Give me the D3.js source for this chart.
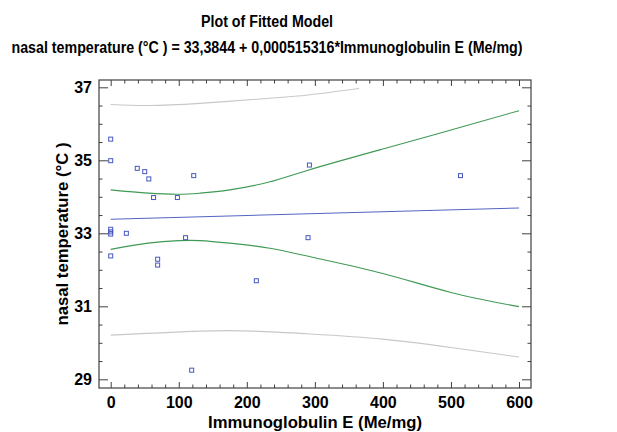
<!DOCTYPE html>
<html><head><meta charset="utf-8">
<script src="https://cdn.jsdelivr.net/npm/d3@7"></script>
<style>
body{margin:0;background:#fff;}
text{font-family:"Liberation Sans",Arial,sans-serif;font-weight:bold;fill:#000;}
</style></head>
<body><svg id="c" width="617" height="432"></svg>
<script>
// observed points
const igE  = [0,0,0,0,0,0,39,50,56,122,63,98,23,110,69,69,214,119,292,514,290];
const temp = [35.58,34.99,33.11,33.04,32.98,32.38,34.78,34.69,34.49,34.58,33.98,33.98,33.0,32.88,32.29,32.13,31.70,29.25,34.87,34.58,32.88];
// fitted model
const intercept = 33.3844, slope = 0.000515316;
const fitX = [0,600];
// confidence limits
const ciUpX = [0,55,100,131,175,234,290,400,500,600];
const ciUpY = [34.19,34.10,34.07,34.10,34.19,34.41,34.73,35.31,35.83,36.36];
const ciLoX = [0,55,100,131,175,234,300,400,500,600];
const ciLoY = [32.56,32.73,32.80,32.80,32.73,32.59,32.33,31.90,31.38,30.99];
// prediction limits
const piUpX = [0,55,131,234,290,365];
const piUpY = [36.53,36.50,36.56,36.70,36.79,36.97];
const piLoX = [0,131,209,293,400,500,600];
const piLoY = [30.21,30.32,30.32,30.24,30.10,29.87,29.61];
// ticks
const xMajor = [0,100,200,300,400,500,600];
const yMajor = [29,31,33,35,37];

const svg = d3.select("#c");
const L=99,R=531,T=80,B=388;
const x = d3.scaleLinear().domain([0,600]).range([110.7,519]);
const y = d3.scaleLinear().domain([29,37]).range([379.3,87.3]);

const xMinor = d3.range(0,601,20).filter(v=>!xMajor.includes(v));
const yMinor = d3.range(29,37.01,0.5).filter(v=>!yMajor.includes(v));

// title
svg.append("text").attr("x",267).attr("y",27).attr("text-anchor","middle").style("font-size","16px")
  .attr("textLength",132).attr("lengthAdjust","spacingAndGlyphs").text("Plot of Fitted Model");
svg.append("text").attr("x",267).attr("y",52.5).attr("text-anchor","middle").style("font-size","16px")
  .attr("textLength",511).attr("lengthAdjust","spacingAndGlyphs")
  .text("nasal temperature (°C ) = 33,3844 + 0,000515316*Immunoglobulin E (Me/mg)");

const tickStyle = g=>{g.select(".domain").remove(); g.selectAll("line").attr("stroke","#404040");};
const lblStyle = s=>s.style("font-size","16px").style("font-family","Liberation Sans").style("font-weight","bold").attr("fill","#000");
// bottom
svg.append("g").attr("transform",`translate(0,${B})`)
  .call(d3.axisBottom(x).tickValues(xMajor).tickSize(-6).tickPadding(9).tickFormat(d3.format("d")))
  .call(tickStyle).selectAll("text").call(lblStyle);
svg.append("g").attr("transform",`translate(0,${B})`)
  .call(d3.axisBottom(x).tickValues(xMinor).tickSize(-3.5).tickFormat("")).call(tickStyle);
// top
svg.append("g").attr("transform",`translate(0,${T})`)
  .call(d3.axisTop(x).tickValues(xMajor).tickSize(-6).tickFormat("")).call(tickStyle);
svg.append("g").attr("transform",`translate(0,${T})`)
  .call(d3.axisTop(x).tickValues(xMinor).tickSize(-3.5).tickFormat("")).call(tickStyle);
// left
svg.append("g").attr("transform",`translate(${L},0)`)
  .call(d3.axisLeft(y).tickValues(yMajor).tickSize(-9).tickPadding(7).tickFormat(d3.format("d")))
  .call(tickStyle).selectAll("text").call(lblStyle);
svg.append("g").attr("transform",`translate(${L},0)`)
  .call(d3.axisLeft(y).tickValues(yMinor).tickSize(-3.5).tickFormat("")).call(tickStyle);
// right
svg.append("g").attr("transform",`translate(${R},0)`)
  .call(d3.axisRight(y).tickValues(yMajor).tickSize(-9).tickFormat("")).call(tickStyle);
svg.append("g").attr("transform",`translate(${R},0)`)
  .call(d3.axisRight(y).tickValues(yMinor).tickSize(-3.5).tickFormat("")).call(tickStyle);

// frame
svg.append("rect").attr("x",L).attr("y",T).attr("width",R-L).attr("height",B-T)
  .attr("fill","none").attr("stroke","#404040").attr("stroke-width",1.2);

// axis titles
svg.append("text").attr("x",(L+R)/2).attr("y",428).attr("text-anchor","middle").style("font-size","16px")
  .attr("textLength",214).attr("lengthAdjust","spacingAndGlyphs").text("Immunoglobulin E (Me/mg)");
svg.append("text").attr("transform",`translate(68,${(T+B)/2}) rotate(-90)`).attr("text-anchor","middle").style("font-size","16px")
  .attr("textLength",183).attr("lengthAdjust","spacingAndGlyphs").text("nasal temperature (°C )");

// curves
const line = d3.line().x(d=>x(d[0])).y(d=>y(d[1])).curve(d3.curveNatural);
const zip = (a,b)=>a.map((v,i)=>[v,b[i]]);
svg.append("path").attr("d",line(zip(piUpX,piUpY))).attr("fill","none").attr("stroke","#c8c8c8").attr("stroke-width",1.1);
svg.append("path").attr("d",line(zip(piLoX,piLoY))).attr("fill","none").attr("stroke","#c8c8c8").attr("stroke-width",1.1);
svg.append("path").attr("d",line(zip(ciUpX,ciUpY))).attr("fill","none").attr("stroke","#3f9a55").attr("stroke-width",1.1);
svg.append("path").attr("d",line(zip(ciLoX,ciLoY))).attr("fill","none").attr("stroke","#3f9a55").attr("stroke-width",1.1);
svg.append("path").attr("d",line(fitX.map(v=>[v,intercept+slope*v]))).attr("fill","none").attr("stroke","#5464c4").attr("stroke-width",1.1);

// points
svg.append("g").selectAll("rect").data(zip(igE,temp)).join("rect")
  .attr("x",d=>x(d[0])-2).attr("y",d=>y(d[1])-2).attr("width",4).attr("height",4)
  .attr("fill","none").attr("stroke","#4656c0").attr("stroke-width",1);
</script></body></html>
